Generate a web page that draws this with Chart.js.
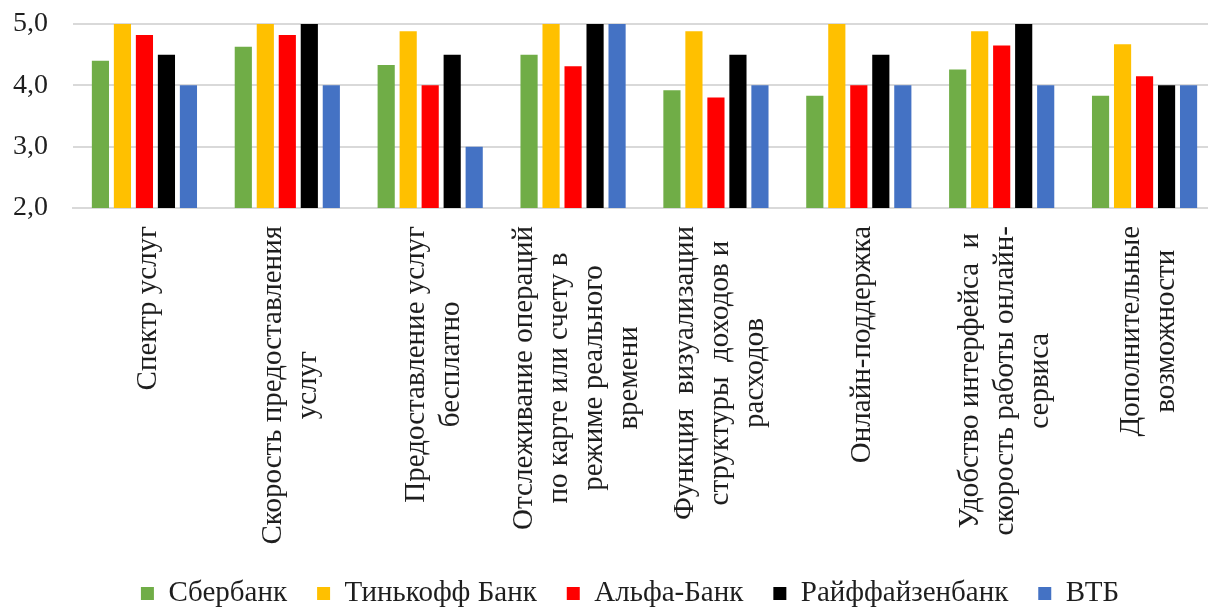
<!DOCTYPE html>
<html lang="ru">
<head>
<meta charset="utf-8">
<title>Оценка онлайн-сервисов банков</title>
<script src="https://cdn.jsdelivr.net/npm/chart.js@4.4.1/dist/chart.umd.min.js"></script>
<style>
  body { margin: 0; background: #fff; }
  .wrap { width: 1208px; height: 612px; overflow: hidden; }
  canvas { display: block; }
</style>
</head>
<body>
<div class="wrap">
  <canvas id="banksChart" width="1260" height="618"></canvas>
</div>
<script>
// критерии оценки (подписи по оси X, по строкам)
const categories = [
  ['Спектр услуг'],
  ['Скорость предоставления', 'услуг'],
  ['Предоставление услуг', 'бесплатно'],
  ['Отслеживание операций', 'по карте или счету в', 'режиме реального', 'времени'],
  ['Функция  визуализации', 'структуры  доходов и', 'расходов'],
  ['Онлайн-поддержка'],
  ['Удобство интерфейса  и', 'скорость работы онлайн-', 'сервиса'],
  ['Дополнительные', 'возможности']
]

const banks = ['Сбербанк', 'Тинькофф Банк', 'Альфа-Банк', 'Райффайзенбанк', 'ВТБ']
const bankColors = ['#70ad47', '#ffc000', '#ff0000', '#000000', '#4472c4']

// средние оценки по каждому банку
const sber = [4.40, 4.63, 4.33, 4.50, 3.92, 3.83, 4.26, 3.83]
const tinkoff = [5.00, 5.00, 4.88, 5.00, 4.88, 5.00, 4.88, 4.67]
const alfa = [4.82, 4.82, 4.00, 4.31, 3.80, 4.00, 4.65, 4.15]
const raiff = [4.50, 5.00, 4.50, 5.00, 4.50, 4.50, 5.00, 4.00]
const vtb = [4.00, 4.00, 3.00, 5.00, 4.00, 4.00, 4.00, 4.00]

const yTicks = [2, 3, 4, 5]

const series = [sber, tinkoff, alfa, raiff, vtb]

const serif = '"Liberation Serif", "Times New Roman", serif'
const lineH = 35

// подписи категорий: повернуты на 90°, строки центрированы между собой
const categoryLabels = {
  id: 'categoryLabels',
  afterDraw(chart) {
    const ctx = chart.ctx
    const x = chart.scales.x
    ctx.save()
    ctx.font = '29px ' + serif
    ctx.fillStyle = '#1e1e1e'
    ctx.textAlign = 'center'
    ctx.textBaseline = 'middle'
    categories.forEach((lines, i) => {
      const cx = x.getPixelForValue(i) + 4
      const w = Math.max(...lines.map(l => ctx.measureText(l).width))
      const cy = x.top + 18 + w / 2
      lines.forEach((line, j) => {
        const lx = cx + (j - (lines.length - 1) / 2) * lineH
        ctx.save()
        ctx.translate(lx, cy)
        ctx.rotate(-Math.PI / 2)
        ctx.fillText(line, 0, 0)
        ctx.restore()
      })
    })
    ctx.restore()
  }
}

const ctx = document.getElementById('banksChart').getContext('2d')

new Chart(ctx, {
  type: 'bar',
  data: {
    labels: categories,
    datasets: banks.map((name, i) => ({
      label: name,
      data: series[i],
      backgroundColor: bankColors[i],
      borderWidth: 0,
      categoryPercentage: 0.77,
      barPercentage: 0.78
    }))
  },
  options: {
    responsive: false,
    animation: false,
    layout: { padding: { top: 24, right: 0, bottom: 0, left: 0 } },
    plugins: {
      tooltip: { enabled: false },
      legend: {
        position: 'bottom',
        labels: {
          boxWidth: 13,
          boxHeight: 13,
          padding: 30,
          color: '#1e1e1e',
          font: { family: serif, size: 29 }
        }
      }
    },
    scales: {
      x: {
        grid: { display: false },
        border: { color: '#d9d9d9', width: 2 },
        ticks: { display: false },
        afterFit: (scale) => { scale.height = 341 }
      },
      y: {
        min: yTicks[0],
        max: yTicks[yTicks.length - 1],
        afterBuildTicks: (scale) => { scale.ticks = yTicks.map(v => ({ value: v })) },
        grid: { color: '#d9d9d9', lineWidth: 2, tickLength: 25, tickColor: 'rgba(0,0,0,0)' },
        border: { display: false },
        ticks: {
          padding: 0,
          color: '#1e1e1e',
          font: { family: serif, size: 28 },
          callback: (v) => v.toFixed(1).replace('.', ',')
        },
        afterFit: (scale) => { scale.width = 73 }
      },
      // пустое поле справа от области построения
      margin: {
        position: 'right',
        grid: { display: false },
        border: { display: false },
        ticks: { display: false },
        afterFit: (scale) => { scale.width = 44 }
      }
    }
  },
  plugins: [categoryLabels]
})
</script>
</body>
</html>
